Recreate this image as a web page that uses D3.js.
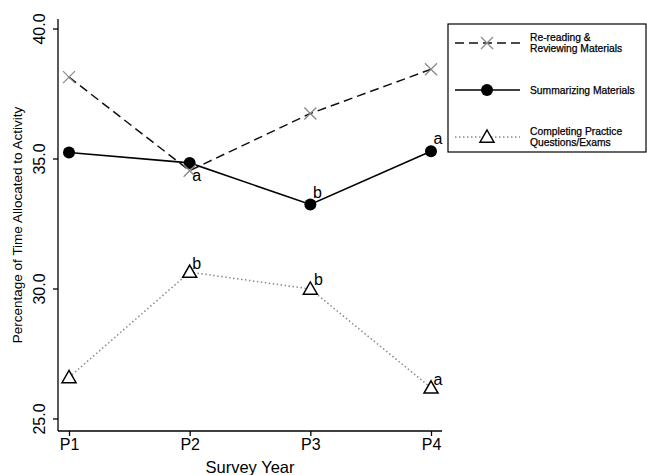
<!DOCTYPE html>
<html>
<head>
<meta charset="utf-8">
<script src="https://cdn.jsdelivr.net/npm/d3@7"></script>
<style>
  body { margin: 0; background: #fff; }
  svg { font-family: "Liberation Sans", Arial, sans-serif; }
  .axis text { font-size: 16px; fill: #000; }
  .axis line { stroke: #000; stroke-width: 1.3; }
  .legend text { stroke: #000; stroke-width: 0.25; }
</style>
</head>
<body>
<svg id="chart" width="647" height="475"></svg>
<script>
var categories = ["P1", "P2", "P3", "P4"];
var rereading = [38.15, 34.55, 36.75, 38.45];
var summarizing = [35.25, 34.85, 33.25, 35.3];
var practice = [26.6, 30.65, 30.0, 26.2];
var yTicks = [25, 30, 35, 40];
var seriesNames = ["Re-reading &\nReviewing Materials", "Summarizing Materials", "Completing Practice\nQuestions/Exams"];
// significance letters: [series index, point index, letter]
var letters = [[1, 1, "a"], [1, 2, "b"], [1, 3, "a"], [2, 1, "b"], [2, 2, "b"], [2, 3, "a"]];

var svg = d3.select("#chart");

var x = d3.scalePoint().domain(categories).range([69, 431]);
var y = d3.scaleLinear().domain([25, 40]).range([419, 29]);

var left = 58, bottom = 431;

// axes
var yAxis = svg.append("g").attr("class", "axis")
    .attr("transform", "translate(" + left + ",0)")
    .call(d3.axisLeft(y).tickValues(yTicks).tickSize(5).tickPadding(0).tickFormat(d3.format(".1f")));
yAxis.select(".domain").remove();
yAxis.selectAll("text")
    .attr("transform", function(d) { return "translate(-13," + y(d) + ") rotate(-90)"; })
    .attr("x", 0).attr("y", 0).attr("dy", 0)
    .attr("text-anchor", "middle");
yAxis.selectAll(".tick").attr("transform", null);
yAxis.selectAll(".tick line").attr("y1", function(d) { return y(d); }).attr("y2", function(d) { return y(d); });

var xAxis = svg.append("g").attr("class", "axis")
    .attr("transform", "translate(0," + bottom + ")")
    .call(d3.axisBottom(x).tickSize(5).tickPadding(3));
xAxis.select(".domain").remove();

svg.append("line").attr("x1", left).attr("x2", left).attr("y1", 19).attr("y2", bottom)
    .attr("stroke", "#000").attr("stroke-width", 1.3);
svg.append("line").attr("x1", left).attr("x2", 442).attr("y1", bottom).attr("y2", bottom)
    .attr("stroke", "#000").attr("stroke-width", 1.3);

svg.append("text")
    .attr("x", 250).attr("y", 473)
    .attr("text-anchor", "middle")
    .style("font-size", "16.5px")
    .text("Survey Year");

svg.append("text")
    .attr("transform", "translate(22,225) rotate(-90)")
    .attr("text-anchor", "middle")
    .style("font-size", "13.5px")
    .text("Percentage of Time Allocated to Activity");

// series
var styles = [
  { values: rereading, stroke: "#111", dash: "9,5", width: 1.5, marker: "cross" },
  { values: summarizing, stroke: "#000", dash: null, width: 1.6, marker: "dot" },
  { values: practice, stroke: "#8a8a8a", dash: "1.5,2.5", width: 1.5, marker: "tri" }
];

var line = d3.line()
    .x(function(d, i) { return x(categories[i]); })
    .y(function(d) { return y(d); });

function drawMarker(g, type, cx, cy) {
  if (type === "cross") {
    var s = 6;
    g.append("path")
        .attr("d", "M" + (cx - s) + "," + (cy - s) + "L" + (cx + s) + "," + (cy + s) +
                   "M" + (cx - s) + "," + (cy + s) + "L" + (cx + s) + "," + (cy - s))
        .attr("stroke", "#8a8a8a").attr("stroke-width", 1.3).attr("fill", "none");
  } else if (type === "dot") {
    g.append("circle").attr("cx", cx).attr("cy", cy).attr("r", 6).attr("fill", "#000");
  } else {
    var h = 7;
    g.append("path")
        .attr("d", "M" + cx + "," + (cy - h) + "L" + (cx + h) + "," + (cy + h * 0.75) +
                   "L" + (cx - h) + "," + (cy + h * 0.75) + "Z")
        .attr("fill", "#fff").attr("stroke", "#000").attr("stroke-width", 1.5);
  }
}

styles.forEach(function(s) {
  svg.append("path")
      .datum(s.values)
      .attr("d", line)
      .attr("fill", "none")
      .attr("stroke", s.stroke)
      .attr("stroke-width", s.width)
      .attr("stroke-dasharray", s.dash);
});

[2, 1, 0].forEach(function(k) {
  var s = styles[k];
  var g = svg.append("g");
  s.values.forEach(function(v, i) { drawMarker(g, s.marker, x(categories[i]), y(v)); });
});

// letters
var letterOffset = { "1,1": [7, 18], "1,2": [7, -7], "1,3": [7, -7], "2,1": [7, -3], "2,2": [8, -4], "2,3": [7, -3] };
letters.forEach(function(l) {
  var off = letterOffset[l[0] + "," + l[1]];
  svg.append("text")
      .attr("x", x(categories[l[1]]) + off[0])
      .attr("y", y(styles[l[0]].values[l[1]]) + off[1])
      .attr("text-anchor", "middle")
      .style("font-size", "16px")
      .text(l[2]);
});

// legend
var legend = svg.append("g").attr("class", "legend");
legend.append("rect")
    .attr("x", 448).attr("y", 24).attr("width", 198).attr("height", 128)
    .attr("fill", "#fff").attr("stroke", "#000").attr("stroke-width", 1.2);

var rowY = [43, 90, 137];
seriesNames.forEach(function(name, k) {
  var s = styles[k];
  legend.append("line")
      .attr("x1", 455).attr("x2", 520).attr("y1", rowY[k]).attr("y2", rowY[k])
      .attr("stroke", s.stroke).attr("stroke-width", s.width)
      .attr("stroke-dasharray", s.dash);
  drawMarker(legend, s.marker, 487, rowY[k]);
  var lines = name.split("\n");
  var t = legend.append("text")
      .attr("x", 530)
      .attr("y", rowY[k] - (lines.length - 1) * 5.5 + 3.5)
      .style("font-size", "10.3px");
  lines.forEach(function(ln, j) {
    t.append("tspan").attr("x", 530).attr("dy", j ? 11 : 0).text(ln);
  });
});
</script>
</body>
</html>
